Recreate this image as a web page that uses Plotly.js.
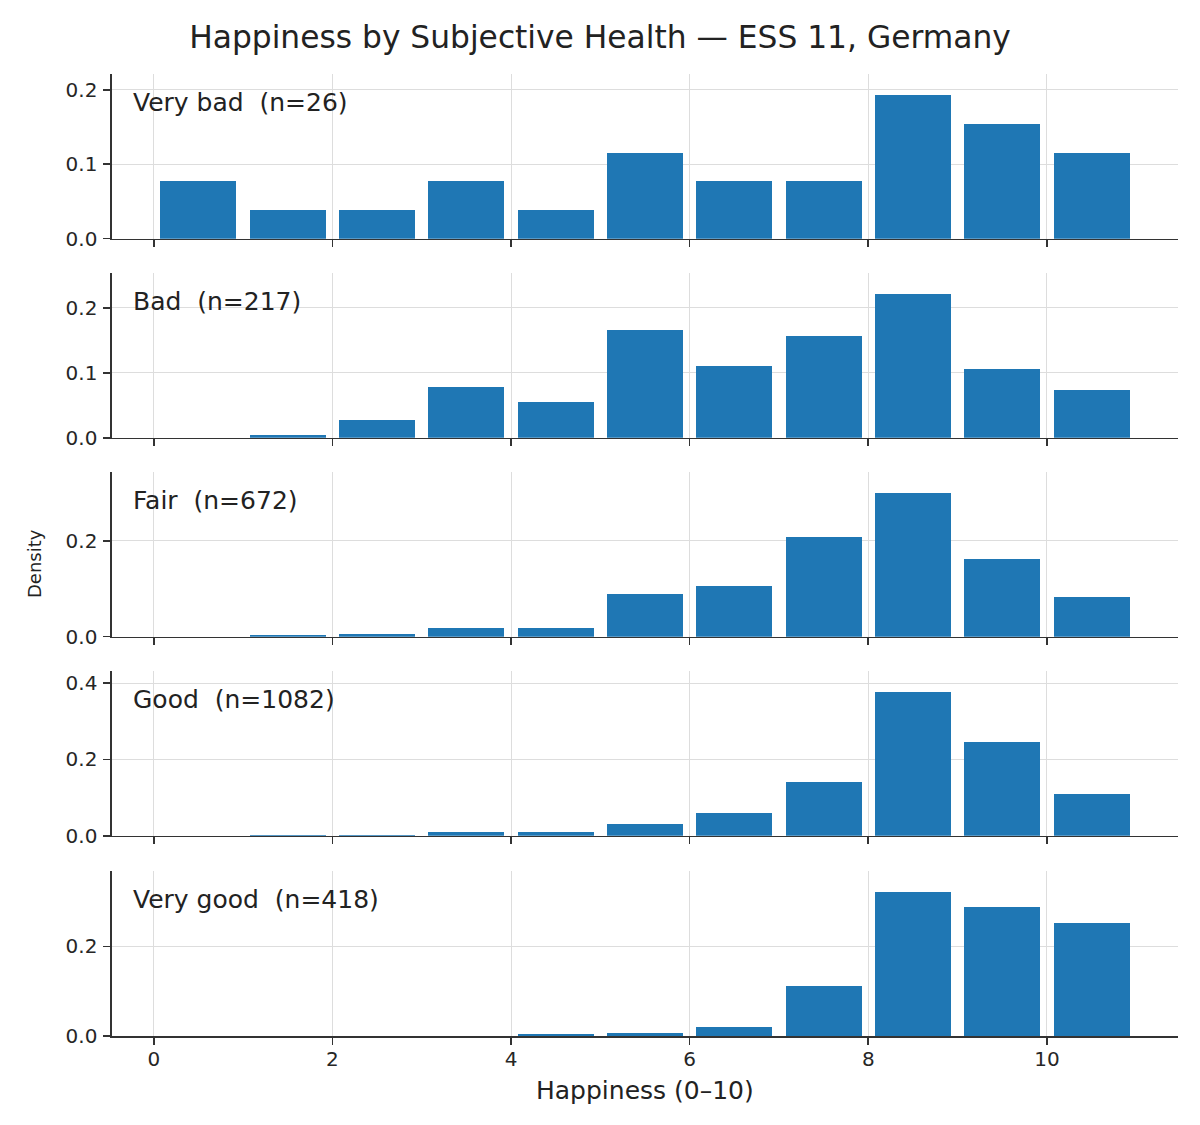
<!DOCTYPE html>
<html>
<head>
<meta charset="utf-8">
<script src="https://cdn.plot.ly/plotly-3.0.1.min.js"></script>
<style>html,body{margin:0;padding:0;background:#fff;}#chart{width:1200px;height:1125px;}</style>
</head>
<body>
<div id="chart"></div>
<script>
// Happiness score bins (0–10)
const happiness = [0, 1, 2, 3, 4, 5, 6, 7, 8, 9, 10];

// Subjective health groups and sample sizes
const groups = ["Very bad", "Bad", "Fair", "Good", "Very good"];
const groupN = [26, 217, 672, 1082, 418];

// Density of each happiness score within each group
const densVeryBad  = [0.0769, 0.0385, 0.0385, 0.0769, 0.0385, 0.1154, 0.0769, 0.0769, 0.1923, 0.1538, 0.1154];
const densBad      = [0.0, 0.0046, 0.0276, 0.0783, 0.0553, 0.1659, 0.1106, 0.1567, 0.2212, 0.1060, 0.0737];
const densFair     = [0.0, 0.0030, 0.0060, 0.0179, 0.0179, 0.0893, 0.1057, 0.2068, 0.2991, 0.1622, 0.0833];
const densGood     = [0.0, 0.0009, 0.0018, 0.0092, 0.0092, 0.0314, 0.0601, 0.1414, 0.3762, 0.2468, 0.1100];
const densVeryGood = [0.0, 0.0, 0.0, 0.0, 0.0048, 0.0072, 0.0191, 0.1124, 0.3206, 0.2871, 0.2512];

const series = [densVeryBad, densBad, densFair, densGood, densVeryGood];

const xTicks = [0, 2, 4, 6, 8, 10];
const yDticks = [0.1, 0.1, 0.2, 0.2, 0.2];

const FONT = "DejaVu Sans, Liberation Sans, sans-serif";
const TXT = "#262626";
const SPINE = "#333333";
const GRID = "#dddddd";
const BAR = "#1f77b4";

// panel domains (top to bottom)
const domains = [
  [0.8288, 1.0],
  [0.6219, 0.7935],
  [0.4151, 0.5866],
  [0.2082, 0.3798],
  [0.0, 0.1718]
];

const traces = [];
const layout = {
  width: 1200, height: 1125,
  margin: {l: 112, r: 22, t: 74, b: 89},
  paper_bgcolor: "#ffffff",
  plot_bgcolor: "#ffffff",
  showlegend: false,
  bargap: 0,
  font: {family: FONT, color: TXT, size: 20},
  title: {
    text: "Happiness by Subjective Health — ESS 11, Germany",
    font: {family: FONT, size: 31.3, color: "#222222"},
    x: 0.5, xref: "container", xanchor: "center",
    y: 1 - 37/1125, yref: "container", yanchor: "middle"
  },
  annotations: []
};

series.forEach((vals, i) => {
  const k = i + 1;
  const xa = k === 1 ? "x" : "x" + k;
  const ya = k === 1 ? "y" : "y" + k;
  traces.push({
    type: "bar",
    x: happiness,
    y: vals,
    width: 0.85,
    offset: 0.075,
    xaxis: xa, yaxis: ya,
    marker: {color: BAR, line: {width: 0}},
    hoverinfo: "x+y"
  });
  const ymax = Math.max(...vals) * 1.15;
  layout["xaxis" + (k === 1 ? "" : k)] = {
    domain: [0, 1],
    anchor: ya,
    range: [-0.4675, 11.4675],
    tickvals: xTicks,
    ticktext: xTicks.map(String),
    showticklabels: k === 5,
    ticks: "outside", ticklen: 7, tickwidth: 1.6, tickcolor: SPINE,
    ticklabelstandoff: -3,
    showline: true, linecolor: SPINE, linewidth: 1.6,
    showgrid: true, gridcolor: GRID, gridwidth: 1,
    zeroline: false,
    tickfont: {family: FONT, size: 20, color: TXT}
  };
  if (k !== 1) layout["xaxis" + k].matches = "x";
  layout["yaxis" + (k === 1 ? "" : k)] = {
    domain: domains[i],
    anchor: xa,
    range: [0, ymax],
    dtick: yDticks[i],
    tick0: 0,
    tickformat: ".1f",
    ticks: "outside", ticklen: 7, tickwidth: 1.6, tickcolor: SPINE,
    ticklabelstandoff: 2,
    showline: true, linecolor: SPINE, linewidth: 1.6,
    showgrid: true, gridcolor: GRID, gridwidth: 1,
    zeroline: false,
    tickfont: {family: FONT, size: 20, color: TXT}
  };
  layout.annotations.push({
    text: groups[i] + "\u00a0\u00a0(n=" + groupN[i] + ")",
    xref: xa + " domain", yref: ya + " domain",
    x: 0.018, y: 0.925, xanchor: "left", yanchor: "top",
    showarrow: false,
    font: {family: FONT, size: 25, color: "#222222"}
  });
});

layout.annotations.push({
  text: "Happiness (0–10)",
  xref: "paper", yref: "paper",
  x: 0.5, y: -(1090 - 1036) / 962, xanchor: "center", yanchor: "middle",
  showarrow: false,
  font: {family: FONT, size: 25, color: "#222222"}
});
layout.annotations.push({
  text: "Density",
  xref: "paper", yref: "paper",
  x: (34 - 112) / 1066, y: (1036 - 564) / 962, xanchor: "center", yanchor: "middle",
  textangle: -90,
  showarrow: false,
  font: {family: FONT, size: 18, color: "#222222"}
});

Plotly.newPlot("chart", traces, layout, {displayModeBar: false, staticPlot: true});
</script>
</body>
</html>
